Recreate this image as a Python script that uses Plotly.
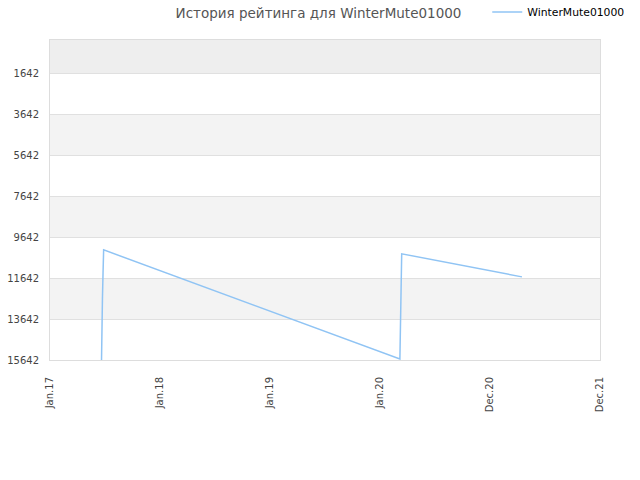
import plotly.graph_objects as go

dates = ["2017-06-21", "2017-06-22", "2017-06-24", "2017-06-26", "2017-06-28",
         "2020-03-07", "2020-03-10", "2020-03-13", "2021-04-16"]
ratings = [15642, 12656, 12656, 11383, 10258,
           15593, 11677, 10453, 11579]

tick_vals_x = ["2017-01-01", "2018-01-01", "2019-01-01", "2020-01-01", "2020-12-31", "2021-12-31"]
tick_text_x = ["Jan.17", "Jan.18", "Jan.19", "Jan.20", "Dec.20", "Dec.21"]
tick_vals_y = [1642, 3642, 5642, 7642, 9642, 11642, 13642, 15642]
tick_text_y = [str(v) for v in tick_vals_y]
y_top = 0

fig = go.Figure()
fig.add_trace(go.Scatter(x=dates, y=ratings, mode="lines", name="WinterMute01000",
                         line=dict(color="#90c4f4", width=1.5)))

shapes = []
shapes.append(dict(type="rect", xref="paper", yref="y", x0=0, x1=1, y0=y_top, y1=tick_vals_y[0],
                   fillcolor="#eeeeee", line=dict(width=0), layer="below"))
for i in range(len(tick_vals_y) - 1):
    if i % 2 == 1:
        shapes.append(dict(type="rect", xref="paper", yref="y", x0=0, x1=1,
                           y0=tick_vals_y[i], y1=tick_vals_y[i + 1],
                           fillcolor="#f3f3f3", line=dict(width=0), layer="below"))

W, H = 640, 480
fig.update_layout(
    width=W, height=H,
    margin=dict(l=50, r=40, t=40, b=120, autoexpand=False),
    paper_bgcolor="white", plot_bgcolor="white",
    hovermode=False,
    font=dict(family="DejaVu Sans", size=10, color="#444"),
    title=dict(text="История рейтинга для WinterMute01000", x=318.5 / W, xanchor="center",
               yref="container", y=1 - 13 / H, yanchor="middle", font=dict(size=13.5, color="#555")),
    showlegend=True,
    legend=dict(x=0.795, xanchor="left", yref="container", y=1 - 12 / H, yanchor="middle",
                font=dict(size=10.8, color="#000"), bgcolor="rgba(0,0,0,0)", itemwidth=30),
    shapes=shapes,
    xaxis=dict(type="date", range=["2017-01-01", "2021-12-31"], tickvals=tick_vals_x, ticktext=tick_text_x,
               tickangle=-90, showgrid=False, showline=True, linecolor="#dddddd", mirror=True,
               ticks="", zeroline=False, automargin=False, ticklabelstandoff=12,
               tickfont=dict(size=10, color="#444")),
    yaxis=dict(range=[15642, y_top], tickvals=tick_vals_y, ticktext=tick_text_y, showgrid=True,
               gridcolor="#e0e0e0", showline=True, linecolor="#dddddd", mirror=True, ticks="",
               zeroline=False, automargin=False, ticklabelstandoff=8,
               tickfont=dict(size=10, color="#444")),
)

fig.write_html("out.html", config={"displayModeBar": False},
               post_script="document.body.style.margin='0';document.body.style.padding='0';")
